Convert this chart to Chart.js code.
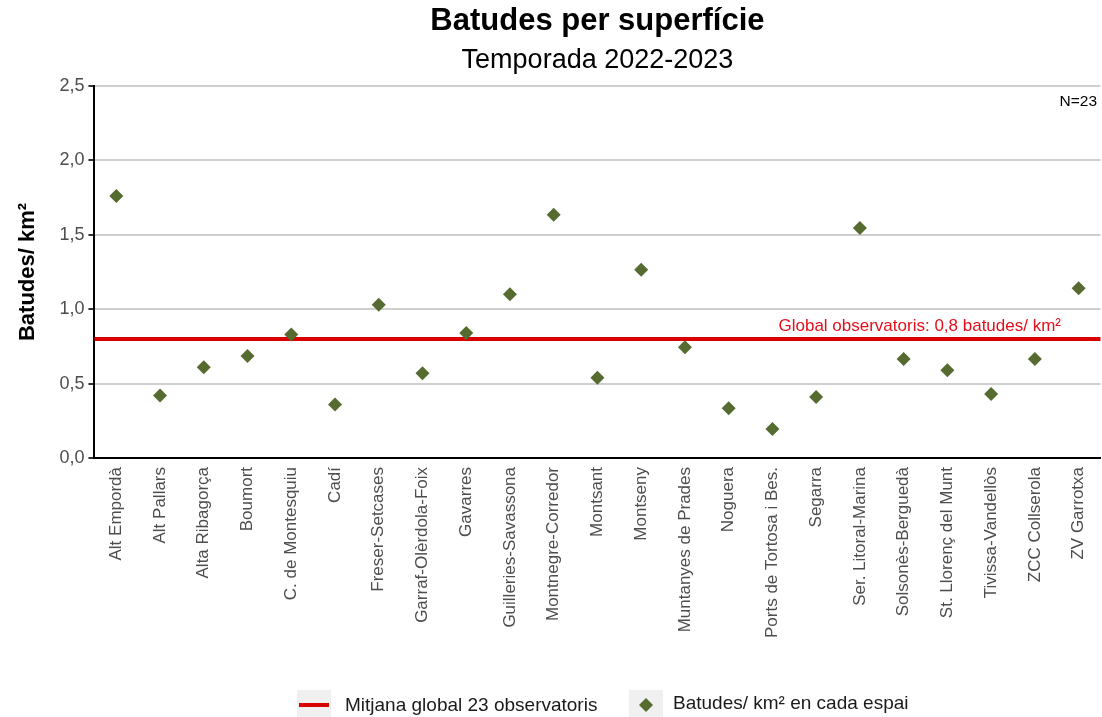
<!DOCTYPE html>
<html>
<head>
<meta charset="utf-8">
<script src="https://cdn.jsdelivr.net/npm/chart.js@4.4.1/dist/chart.umd.min.js"></script>
<style>
  html, body { margin: 0; padding: 0; background: #fff; }
  #wrap { width: 1102px; height: 717px; position: relative; }
</style>
</head>
<body>
<div id="wrap"><canvas id="grafic"></canvas></div>
<script>
// espais (observatoris)
const espais = [
    'Alt Empordà', 'Alt Pallars', 'Alta Ribagorça', 'Boumort', 'C. de Montesquiu',
    'Cadí', 'Freser-Setcases', 'Garraf-Olèrdola-Foix', 'Gavarres', 'Guilleries-Savassona',
    'Montnegre-Corredor', 'Montsant', 'Montseny', 'Muntanyes de Prades', 'Noguera',
    'Ports de Tortosa i Bes.', 'Segarra', 'Ser. Litoral-Marina', 'Solsonès-Berguedà',
    'St. Llorenç del Munt', 'Tivissa-Vandellòs', 'ZCC Collserola', 'ZV Garrotxa'
];
// batudes per km2 a cada espai
const batudesKm2 = [
    1.76, 0.42, 0.61, 0.685, 0.83,
    0.36, 1.03, 0.57, 0.84, 1.10,
    1.635, 0.54, 1.265, 0.745, 0.335,
    0.195, 0.41, 1.545, 0.665,
    0.59, 0.43, 0.665, 1.14
];
const mitjanaGlobal = 0.8;
const yMax = 2.5;
const yPas = 0.5;

const vermell = '#d90000';
const verd = '#556b2f';
const font = '"Liberation Sans", Arial, sans-serif';

// titols centrats sobre el panell
const titols = {
    id: 'titols',
    afterDraw(chart) {
        const { ctx, chartArea } = chart;
        const cx = (chartArea.left + chartArea.right) / 2;
        ctx.save();
        ctx.fillStyle = '#000';
        ctx.textAlign = 'center';
        ctx.textBaseline = 'middle';
        ctx.font = 'bold 31px ' + font;
        ctx.fillText('Batudes per superfície', cx, 21);
        ctx.font = '27px ' + font;
        ctx.fillText('Temporada 2022-2023', cx, 61);
        ctx.restore();
    }
};

// linia de la mitjana global + etiqueta + N
const liniaMitjana = {
    id: 'liniaMitjana',
    beforeDatasetsDraw(chart) {
        const { ctx, chartArea, scales } = chart;
        const y = scales.y.getPixelForValue(mitjanaGlobal);
        ctx.save();
        ctx.strokeStyle = vermell;
        ctx.lineWidth = 4;
        ctx.beginPath();
        ctx.moveTo(chartArea.left, y);
        ctx.lineTo(chartArea.right, y);
        ctx.stroke();
        ctx.fillStyle = '#e2101c';
        ctx.font = '17px ' + font;
        ctx.textAlign = 'right';
        ctx.textBaseline = 'bottom';
        ctx.fillText('Global observatoris: 0,8 batudes/ km²', 1061, y - 4);
        ctx.fillStyle = '#000';
        ctx.font = '15.5px ' + font;
        ctx.textBaseline = 'middle';
        ctx.fillText('N=23', 1097, 102);
        ctx.restore();
    }
};

// llegenda a baix
const llegenda = {
    id: 'llegenda',
    afterDraw(chart) {
        const ctx = chart.ctx;
        const y = 705;
        ctx.save();
        ctx.fillStyle = '#f0f0f0';
        ctx.fillRect(297, y - 15, 34, 30);
        ctx.fillRect(629, y - 15, 34, 30);
        ctx.strokeStyle = vermell;
        ctx.lineWidth = 4;
        ctx.beginPath();
        ctx.moveTo(299, y);
        ctx.lineTo(329, y);
        ctx.stroke();
        ctx.fillStyle = verd;
        ctx.beginPath();
        ctx.moveTo(646, y - 7);
        ctx.lineTo(653, y);
        ctx.lineTo(646, y + 7);
        ctx.lineTo(639, y);
        ctx.closePath();
        ctx.fill();
        ctx.fillStyle = '#1a1a1a';
        ctx.font = '19px ' + font;
        ctx.textAlign = 'left';
        ctx.textBaseline = 'middle';
        ctx.fillText('Mitjana global 23 observatoris', 345, y + 1);
        ctx.fillText('Batudes/ km² en cada espai', 673, y - 1);
        ctx.restore();
    }
};

new Chart(document.getElementById('grafic'), {
    type: 'line',
    data: {
        labels: espais,
        datasets: [{
            label: 'Batudes/ km² en cada espai',
            data: batudesKm2,
            showLine: false,
            pointStyle: 'rectRot',
            pointRadius: 7,
            pointHoverRadius: 7,
            pointBackgroundColor: verd,
            pointBorderColor: verd,
            pointBorderWidth: 0
        }]
    },
    options: {
        responsive: true,
        maintainAspectRatio: false,
        animation: false,
        layout: { autoPadding: false, padding: { left: 15, right: 0, top: 86, bottom: 76 } },
        plugins: {
            legend: { display: false },
            tooltip: { enabled: false },
            title: { display: false }
        },
        scales: {
            x: {
                offset: true,
                grid: { display: false, drawOnChartArea: false, tickLength: 6, tickColor: '#333', tickWidth: 1.5 },
                border: { display: true, color: '#000', width: 2 },
                ticks: {
                    color: '#4d4d4d',
                    minRotation: 90,
                    maxRotation: 90,
                    autoSkip: false,
                    padding: 3,
                    font: { family: font, size: 17 }
                }
            },
            y: {
                min: 0,
                max: yMax,
                grid: { color: '#cfcfcf', lineWidth: 2, tickLength: 6, tickColor: '#333' },
                border: { display: true, color: '#000', width: 2 },
                ticks: {
                    stepSize: yPas,
                    color: '#4d4d4d',
                    padding: 4,
                    font: { family: font, size: 18 },
                    callback: v => v.toFixed(1).replace('.', ',')
                },
                title: {
                    display: true,
                    text: 'Batudes/ km²',
                    color: '#000',
                    padding: { top: 0, bottom: 14 },
                    font: { family: font, size: 22, weight: 'bold' }
                }
            }
        }
    },
    plugins: [titols, liniaMitjana, llegenda]
});
</script>
</body>
</html>
